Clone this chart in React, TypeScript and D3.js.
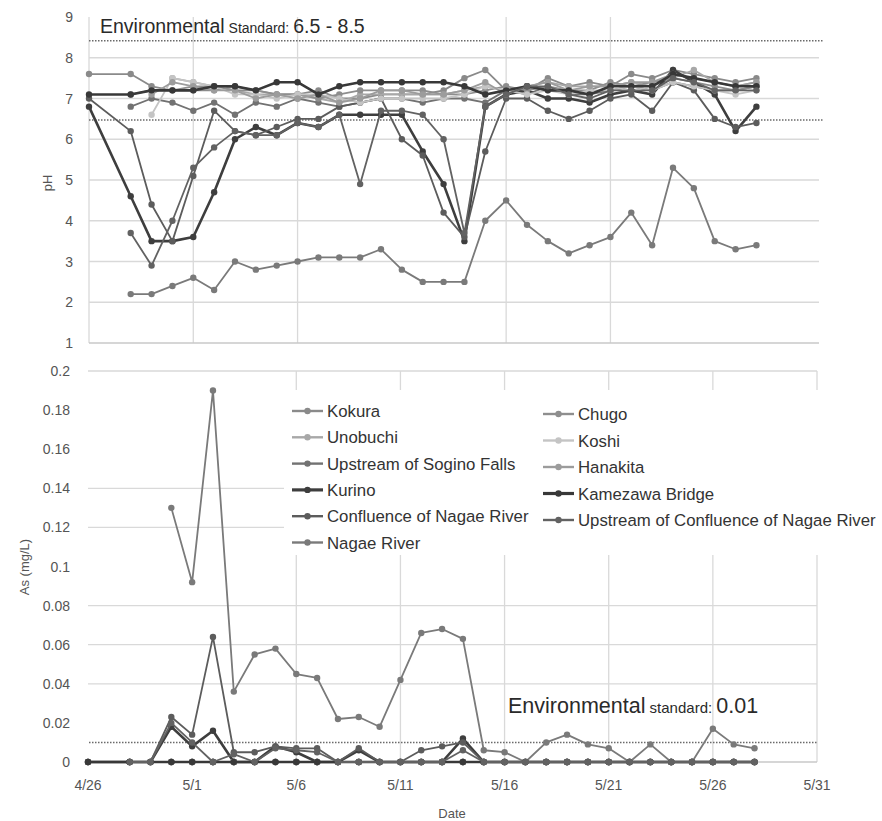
import React from 'react';
import * as d3 from 'd3';

// sampling days (4/27 missing)
const dates = ['4/26', '4/28', '4/29', '4/30', '5/1', '5/2', '5/3', '5/4', '5/5', '5/6', '5/7', '5/8', '5/9', '5/10', '5/11', '5/12',
  '5/13', '5/14', '5/15', '5/16', '5/17', '5/18', '5/19', '5/20', '5/21', '5/22', '5/23', '5/24', '5/25', '5/26', '5/27', '5/28'];
const xTickLabels = ['4/26', '5/1', '5/6', '5/11', '5/16', '5/21', '5/26', '5/31'];
const phTicks = [1, 2, 3, 4, 5, 6, 7, 8, 9];
const asTicks = [0, 0.02, 0.04, 0.06, 0.08, 0.1, 0.12, 0.14, 0.16, 0.18, 0.2];

// gridlines that show in the picture
const phGridY = [2, 3, 4, 5, 6, 7, 8];
const phGridX = ['5/1', '5/6', '5/16', '5/21'];
const asGridY = [0.04, 0.06, 0.08, 0.12, 0.14, 0.2];
const asGridX = ['5/6', '5/11', '5/16', '5/21', '5/26', '5/31'];

const phStandard = [8.42, 6.47];
const asStandard = [0.01];

// pH
const phKokura = [7.6, 7.6, 7.3, 7.2, 7.2, 7.2, 7.3, 7.2, 7.1, 7.1, 7.2, 7.0, 7.0, 7.1, 7.1, 7.1, 7.2, 7.5, 7.7, 7.2, 7.2, 7.5, 7.3, 7.4, 7.3, 7.6, 7.5, 7.7, 7.6, 7.5, 7.4, 7.5];
const phUnobuchi = [null, null, null, 7.5, 7.4, 7.3, 7.2, 7.1, 7.1, 7.1, 7.0, 6.9, 7.1, 7.1, 7.1, 7.1, 7.1, 7.2, 7.3, 7.2, 7.3, 7.4, 7.3, 7.3, 7.3, 7.4, 7.3, 7.5, 7.7, 7.4, 7.3, 7.4];
const phSogino = [null, 6.8, 7.0, 6.9, 6.7, 6.9, 6.6, 6.9, 6.8, 7.0, 6.9, 6.8, 6.9, 7.0, 7.0, 6.9, 7.0, 7.0, 6.9, 7.2, 7.1, 7.3, 7.1, 7.1, 7.2, 7.3, 7.2, 7.4, 7.3, 7.2, 7.2, 7.3];
const phKurino = [6.8, 4.6, 3.5, 3.5, 3.6, 4.7, 6.0, 6.3, 6.1, 6.4, 6.3, 6.6, 6.6, 6.6, 6.6, 5.7, 4.9, 3.5, 6.8, 7.1, 7.2, 7.0, 7.0, 6.9, 7.1, 7.2, 7.1, 7.7, 7.4, 7.1, 6.2, 6.8];
const phConfluence = [7.0, 6.2, 4.4, 3.5, 5.1, 6.7, 6.2, 6.1, 6.3, 6.5, 6.5, 6.8, 6.9, 7.0, 6.0, 5.6, 4.2, 3.6, 5.7, 7.0, 7.0, 6.7, 6.5, 6.7, 7.0, 7.1, 6.7, 7.4, 7.2, 6.5, 6.3, 6.4];
const phNagae = [null, 2.2, 2.2, 2.4, 2.6, 2.3, 3.0, 2.8, 2.9, 3.0, 3.1, 3.1, 3.1, 3.3, 2.8, 2.5, 2.5, 2.5, 4.0, 4.5, 3.9, 3.5, 3.2, 3.4, 3.6, 4.2, 3.4, 5.3, 4.8, 3.5, 3.3, 3.4];
const phChugo = [null, 7.1, 7.2, 7.2, 7.3, 7.3, 7.2, 7.2, 7.1, 7.1, 7.0, 7.1, 7.2, 7.2, 7.2, 7.2, 7.1, 7.1, 7.2, 7.3, 7.2, 7.3, 7.2, 7.2, 7.4, 7.3, 7.4, 7.5, 7.4, 7.3, 7.2, 7.3];
const phKoshi = [null, null, 6.6, 7.5, 7.4, 7.3, 7.1, 7.1, 7.0, 7.1, 7.1, 7.0, 6.9, 7.0, 7.0, 7.0, 7.0, 7.1, 7.3, 7.2, 7.1, 7.2, 7.1, 7.2, 7.2, 7.3, 7.2, 7.4, 7.3, 7.2, 7.1, 7.2];
const phHanakita = [null, null, 7.1, 7.4, 7.3, 7.2, 7.2, 7.0, 7.1, 7.0, 7.1, 6.9, 7.0, 7.2, 7.2, 7.1, 7.1, 7.2, 7.4, 7.1, 7.3, 7.4, 7.2, 7.3, 7.3, 7.4, 7.4, 7.6, 7.5, 7.4, 7.3, 7.4];
const phKamezawa = [7.1, 7.1, 7.2, 7.2, 7.2, 7.3, 7.3, 7.2, 7.4, 7.4, 7.1, 7.3, 7.4, 7.4, 7.4, 7.4, 7.4, 7.3, 7.1, 7.2, 7.3, 7.2, 7.2, 7.1, 7.3, 7.3, 7.3, 7.6, 7.5, 7.4, 7.3, 7.3];
const phUpConfluence = [null, 3.7, 2.9, 4.0, 5.3, 5.8, 6.2, 6.1, 6.1, 6.4, 6.3, 6.6, 4.9, 6.7, 6.7, 6.6, 6.0, 3.7, 6.8, 7.1, 7.3, 7.3, 7.1, 7.0, 7.2, 7.2, 7.2, 7.5, 7.4, 7.2, 7.2, 7.2];

// As (mg/L)
const asKokura = [0, 0, 0, 0, 0, 0, 0, 0, 0, 0, 0, 0, 0, 0, 0, 0, 0, 0, 0, 0, 0, 0, 0, 0, 0, 0, 0, 0, 0, 0, 0, 0];
const asUnobuchi = [null, 0, 0, 0, 0, 0, 0, 0, 0, 0, 0, 0, 0, 0, 0, 0, 0, 0, 0, 0, 0, 0, 0, 0, 0, 0, 0, 0, 0, 0, 0, 0];
const asSogino = [null, 0, 0, 0, 0, 0, 0, 0, 0, 0, 0, 0, 0, 0, 0, 0, 0, 0, 0, 0, 0, 0, 0, 0, 0, 0, 0, 0, 0, 0, 0, 0];
const asKurino = [0, 0, 0, 0.018, 0.008, 0.016, 0, 0, 0.008, 0.005, 0, 0, 0.006, 0, 0, 0, 0, 0.012, 0, 0, 0, 0, 0, 0, 0, 0, 0, 0, 0, 0, 0, 0];
const asConfluence = [0, 0, 0, 0.023, 0.014, 0.064, 0.005, 0.005, 0.008, 0.007, 0.007, 0, 0.007, 0, 0, 0.006, 0.008, 0.010, 0, 0, 0, 0, 0, 0, 0, 0, 0, 0, 0, 0, 0, 0];
const asNagae = [null, null, null, 0.130, 0.092, 0.190, 0.036, 0.055, 0.058, 0.045, 0.043, 0.022, 0.023, 0.018, 0.042, 0.066, 0.068, 0.063, 0.006, 0.005, 0, 0.010, 0.014, 0.009, 0.007, 0, 0.009, 0, 0, 0.017, 0.009, 0.007];
const asChugo = [null, 0, 0, 0, 0, 0, 0, 0, 0, 0, 0, 0, 0, 0, 0, 0, 0, 0, 0, 0, 0, 0, 0, 0, 0, 0, 0, 0, 0, 0, 0, 0];
const asKoshi = [null, null, 0, 0, 0, 0, 0, 0, 0, 0, 0, 0, 0, 0, 0, 0, 0, 0, 0, 0, 0, 0, 0, 0, 0, 0, 0, 0, 0, 0, 0, 0];
const asHanakita = [null, null, 0, 0, 0, 0, 0, 0, 0, 0, 0, 0, 0, 0, 0, 0, 0, 0, 0, 0, 0, 0, 0, 0, 0, 0, 0, 0, 0, 0, 0, 0];
const asKamezawa = [0, 0, 0, 0, 0, 0, 0, 0, 0, 0, 0, 0, 0, 0, 0, 0, 0, 0, 0, 0, 0, 0, 0, 0, 0, 0, 0, 0, 0, 0, 0, 0];
const asUpConfluence = [null, 0, 0, 0.020, 0.010, 0, 0.004, 0, 0.007, 0.006, 0.005, 0, 0, 0, 0, 0, 0, 0.006, 0, 0, 0, 0, 0, 0, 0, 0, 0, 0, 0, 0, 0, 0];

const series = [
  { name: 'Kokura', color: '#8a8a8a', width: 1.8, ph: phKokura, as: asKokura },
  { name: 'Unobuchi', color: '#a8a8a8', width: 1.8, ph: phUnobuchi, as: asUnobuchi },
  { name: 'Upstream of Sogino Falls', color: '#727272', width: 1.8, ph: phSogino, as: asSogino },
  { name: 'Kurino', color: '#3e3e3e', width: 2.6, ph: phKurino, as: asKurino },
  { name: 'Confluence of Nagae River', color: '#5c5c5c', width: 1.8, ph: phConfluence, as: asConfluence },
  { name: 'Nagae River', color: '#7a7a7a', width: 1.8, ph: phNagae, as: asNagae },
  { name: 'Chugo', color: '#8e8e8e', width: 1.8, ph: phChugo, as: asChugo },
  { name: 'Koshi', color: '#c4c4c4', width: 1.8, ph: phKoshi, as: asKoshi },
  { name: 'Hanakita', color: '#9c9c9c', width: 1.8, ph: phHanakita, as: asHanakita },
  { name: 'Kamezawa Bridge', color: '#383838', width: 2.6, ph: phKamezawa, as: asKamezawa },
  { name: 'Upstream of Confluence of Nagae River', color: '#626262', width: 1.8, ph: phUpConfluence, as: asUpConfluence },
];

const day = (s: string) => {
  const [m, d] = s.split('/').map(Number);
  return new Date(2013, m - 1, d);
};

const font = '"Liberation Sans", Arial, sans-serif';
const gridColor = '#d9d9d9';
const textColor = '#555';

const xTop = d3.scaleTime().domain([day('4/26'), day('5/31')]).range([89, 819]);
const yTop = d3.scaleLinear().domain([1, 9]).range([343, 17]);
const xBot = d3.scaleTime().domain([day('4/26'), day('5/31')]).range([88, 817]);
const yBot = d3.scaleLinear().domain([0, 0.2]).range([762, 371]);

function Lines({ x, y, field }) {
  return (
    <g>
      {series.map((s) => {
        const pts = dates.map((d, i) => ({ t: day(d), v: s[field][i] }));
        const line = d3.line<any>()
          .defined((p) => p.v != null)
          .x((p) => x(p.t))
          .y((p) => y(p.v));
        return (
          <g key={s.name}>
            <path d={line(pts) || ''} fill="none" stroke={s.color} strokeWidth={s.width} strokeLinejoin="round" />
            {pts.filter((p) => p.v != null).map((p, i) => (
              <circle key={i} cx={x(p.t)} cy={y(p.v)} r={3.2} fill={s.color} />
            ))}
          </g>
        );
      })}
    </g>
  );
}

export default function App() {
  const legendLeft = series.slice(0, 6);
  const legendRight = series.slice(6);
  return (
    <svg width={882} height={821} style={{ position: 'absolute', left: 0, top: 0, background: '#fff' }} fontFamily={font}>
      {/* ---------- pH panel ---------- */}
      {phGridY.map((v) => (
        <line key={v} x1={89} x2={819} y1={yTop(v)} y2={yTop(v)} stroke={gridColor} strokeWidth={1.3} />
      ))}
      {phGridX.map((d) => (
        <line key={d} x1={xTop(day(d))} x2={xTop(day(d))} y1={17} y2={343} stroke={gridColor} strokeWidth={1.3} />
      ))}
      <line x1={89} x2={89} y1={17} y2={343} stroke={gridColor} strokeWidth={1.3} />
      <line x1={89} x2={819} y1={343} y2={343} stroke="#c8c8c8" strokeWidth={1.5} />
      {phStandard.map((v) => (
        <line key={v} x1={89} x2={823} y1={yTop(v)} y2={yTop(v)} stroke="#6a6a6a" strokeWidth={1.5} strokeDasharray="1.5,1.5" />
      ))}
      {phTicks.map((v) => (
        <text key={v} x={73} y={yTop(v) + 5} textAnchor="end" fontSize={14} fill={textColor}>{v}</text>
      ))}
      <text transform="translate(52,183) rotate(-90)" textAnchor="middle" fontSize={13} fill={textColor}>pH</text>
      <text x={100} y={33} fill="#2a2a2a">
        <tspan fontSize={19.5}>Environmental</tspan>
        <tspan fontSize={14}> Standard: </tspan>
        <tspan fontSize={19.5}>6.5 - 8.5</tspan>
      </text>
      <Lines x={xTop} y={yTop} field="ph" />

      {/* ---------- As panel ---------- */}
      {asGridY.map((v) => (
        <line key={v} x1={88} x2={817} y1={yBot(v)} y2={yBot(v)} stroke={gridColor} strokeWidth={1.3} />
      ))}
      {asGridX.map((d) => (
        <line key={d} x1={xBot(day(d))} x2={xBot(day(d))} y1={371} y2={762} stroke={gridColor} strokeWidth={1.3} />
      ))}
      <line x1={88} x2={817} y1={762} y2={762} stroke="#c8c8c8" strokeWidth={1.5} />
      {asTicks.map((v) => (
        <text key={v} x={70} y={yBot(v) + 5} textAnchor="end" fontSize={14} fill={textColor}>{v}</text>
      ))}
      {xTickLabels.map((d) => (
        <text key={d} x={xBot(day(d))} y={790} textAnchor="middle" fontSize={14} fill={textColor}>{d}</text>
      ))}
      <text x={452} y={818} textAnchor="middle" fontSize={13} fill={textColor}>Date</text>
      <text transform="translate(29,567) rotate(-90)" textAnchor="middle" fontSize={13} fill={textColor}>As (mg/L)</text>

      {/* legend box */}
      <rect x={284} y={390} width={598} height={165} fill="#fff" />
      {legendLeft.map((s, i) => (
        <g key={s.name} transform={`translate(292,${411 + i * 26.3})`}>
          <line x1={0} x2={31} y1={0} y2={0} stroke={s.color} strokeWidth={s.width + 0.6} />
          <circle cx={15.5} cy={0} r={3.2} fill={s.color} />
          <text x={35} y={6} fontSize={16.8} fill="#333">{s.name}</text>
        </g>
      ))}
      {legendRight.map((s, i) => (
        <g key={s.name} transform={`translate(543,${414 + i * 26.5})`}>
          <line x1={0} x2={31} y1={0} y2={0} stroke={s.color} strokeWidth={s.width + 0.6} />
          <circle cx={15.5} cy={0} r={3.2} fill={s.color} />
          <text x={35} y={6} fontSize={16.8} fill="#333">{s.name}</text>
        </g>
      ))}

      {asStandard.map((v) => (
        <line key={v} x1={89} x2={818} y1={yBot(v)} y2={yBot(v)} stroke="#6a6a6a" strokeWidth={1.5} strokeDasharray="1.5,1.5" />
      ))}
      <text x={508} y={713} fill="#2a2a2a">
        <tspan fontSize={21.5}>Environmental</tspan>
        <tspan fontSize={15}> standard: </tspan>
        <tspan fontSize={21.5}>0.01</tspan>
      </text>
      <Lines x={xBot} y={yBot} field="as" />
    </svg>
  );
}
